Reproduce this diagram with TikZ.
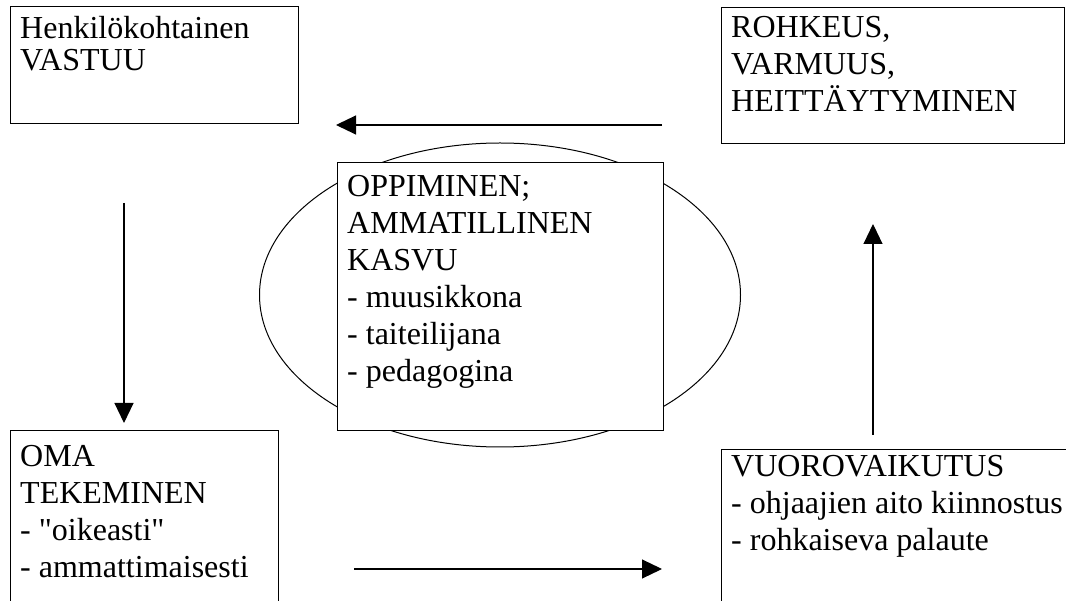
\documentclass[tikz,border=0pt]{standalone}
\usepackage{fontspec}
\setmainfont{Liberation Serif}
\usetikzlibrary{arrows.meta}
\usetikzlibrary{shapes.geometric}

\tikzset{
  box/.style={draw, line width=1.3pt, fill=white, inner sep=0pt, anchor=north west},
  txt/.style={align=left, inner sep=0pt, anchor=base west, font=\fontsize{32}{37}\selectfont},
  arr/.style={line width=1.1pt, -{Triangle[length=20pt,width=19pt]}}
}

\begin{document}
\begin{tikzpicture}[x=1pt,y=-1pt]
        \useasboundingbox (0,0) rectangle (1066,601);
        % ring and boxes
        \node[draw, ellipse, line width=1pt, minimum width=481pt, minimum height=304pt] (ring) at (500,295) {};
        \node[box, minimum width=288pt, minimum height=117pt] (vastuu) at (10,6) {};
        \node[box, minimum width=343pt, minimum height=136pt] (rohkeus) at (721,7) {};
        \node[box, minimum width=268pt, minimum height=200pt] (oma) at (10,430) {};
        \node[box, minimum width=360pt, minimum height=200pt] (vuoro) at (721,449) {};
        \node[box, minimum width=326pt, minimum height=268pt] (oppi) at (337,162) {};
        % texts (anchored on the last line)
        \node[txt, font=\fontsize{32}{32}\selectfont] (vastuutxt) at (20,71) {Henkilökohtainen\\VASTUU};
        \node[txt] (rohkeustxt) at (731,112) {ROHKEUS,\\VARMUUS,\\HEITTÄYTYMINEN};
        \node[txt] (omatxt) at (20,577) {OMA\\TEKEMINEN\\- \textquotedbl oikeasti\textquotedbl\\- ammattimaisesti};
        \node[txt] (vuorotxt) at (731,550) {VUOROVAIKUTUS\\- ohjaajien aito kiinnostus\\- rohkaiseva palaute};
        \node[txt] (oppitxt) at (347,382) {OPPIMINEN;\\AMMATILLINEN\\KASVU\\- muusikkona\\- taiteilijana\\- pedagogina};
        % arrow ends
        \coordinate (topS) at (662,125);
        \coordinate (topE) at (336,125);
        \coordinate (leftS) at (124,203);
        \coordinate (leftE) at (124,423);
        \coordinate (botS) at (354,569);
        \coordinate (botE) at (662,569);
        \coordinate (rightS) at (873,435);
        \coordinate (rightE) at (873,224);
        \draw[arr] (topS) -- (topE);
        \draw[arr] (leftS) -- (leftE);
        \draw[arr] (botS) -- (botE);
        \draw[arr] (rightS) -- (rightE);
      \end{tikzpicture}
\end{document}
